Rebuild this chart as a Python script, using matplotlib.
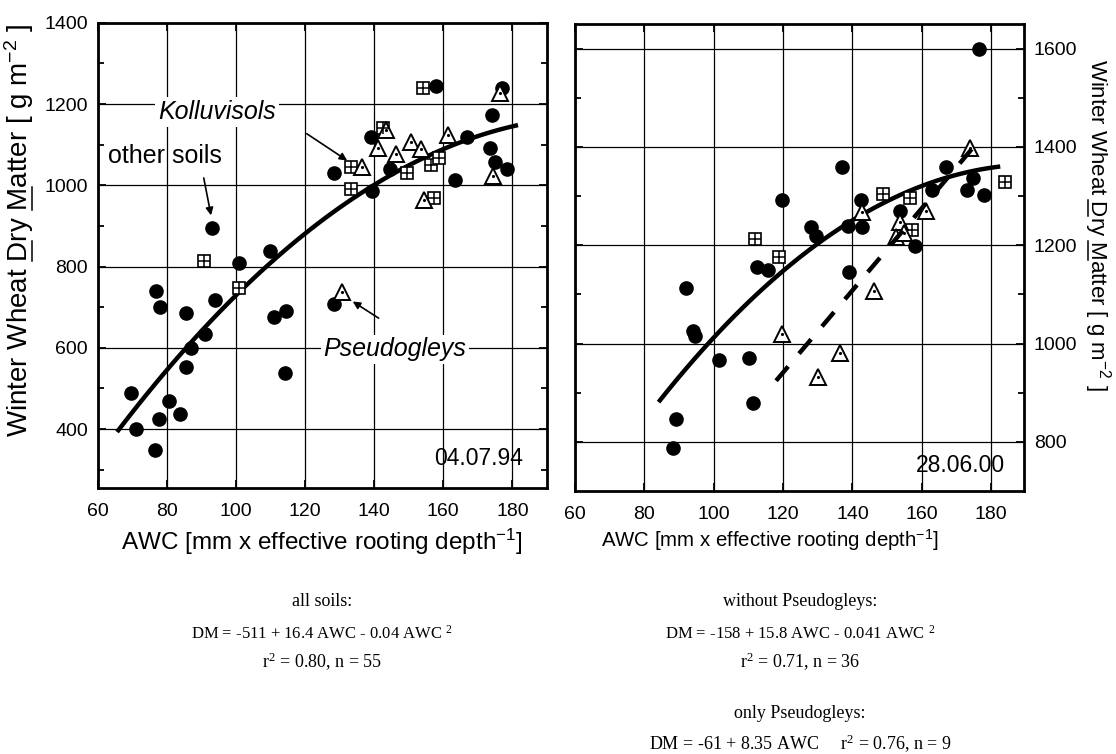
import numpy as np
import matplotlib.pyplot as plt
from matplotlib.lines import Line2D

plt.rcParams['font.family'] = ['Liberation Sans', 'DejaVu Sans']
plt.rcParams['mathtext.default'] = 'regular'

# ---- 04.07.94 (all soils) ----
circ94_x = [158, 177, 174, 167, 139, 144.5, 163.5, 128.5, 139.5, 173.5, 175, 178.5,
            93, 110, 101, 77, 78, 85.7, 94, 111, 114.6, 128.5, 91, 87, 85.7, 114.3,
            69.7, 80.6, 83.8, 77.7, 71, 76.7]
circ94_y = [1245, 1240, 1172, 1119, 1120, 1040, 1012, 1030, 987, 1091, 1058, 1040,
            896, 839, 809, 740, 701, 685, 718, 677, 691, 707, 633, 600, 554, 538,
            488, 469, 438, 426, 399, 349]
sq94_x = [154, 142.5, 133.4, 133.4, 149.6, 156.4, 158.8, 157.4, 90.8, 101]
sq94_y = [1240, 1140, 1046, 992, 1030, 1050, 1066, 969, 813, 746]
tri94_x = [176.3, 161.5, 143.5, 141.1, 146.2, 150.6, 153.5, 136.5, 154.5, 174.4, 130.6]
tri94_y = [1228, 1123, 1137, 1091, 1078, 1107, 1089, 1044, 965, 1023, 738]

# ---- 28.06.00 ----
circ00_x = [176.6, 166.9, 137.1, 174.9, 173.1, 178, 163, 142.6, 138.8, 142.9, 153.7,
            158, 119.7, 128.2, 129.4, 112.6, 115.6, 139, 92, 93.9, 94.5, 101.4, 110.2,
            111.3, 89.2, 88.2]
circ00_y = [1599, 1359, 1359, 1336, 1312, 1303, 1312, 1292, 1239, 1237, 1270,
            1199, 1292, 1238, 1218, 1156, 1149, 1145, 1113, 1025, 1016, 966, 970,
            878, 847, 787]
sq00_x = [184, 156.6, 148.7, 157.1, 111.8, 118.7]
sq00_y = [1329, 1297, 1305, 1231, 1212, 1175]
tri00_x = [174, 142.9, 161.2, 153.7, 152.7, 155, 146.1, 119.7, 136.4, 130.1]
tri00_y = [1397, 1268, 1270, 1248, 1216, 1225, 1106, 1020, 981, 931]

# regression coefficients
fit_all = (-511, 16.4, -0.04)
fit_wo = (-158, 15.8, -0.041)
fit_pg = (-61, 8.35)

TF = 14  # tick labels
ylab = 'Winter Wheat Dry Matter [ g m$^{-2}$ ]'
xlab = 'AWC [mm x effective rooting depth$^{-1}$]'

W, H = 1116, 754
fig = plt.figure(figsize=(W / 100, H / 100), dpi=100)
ax1 = fig.add_axes([0.0875, 0.3528, 0.4026, 0.617])
ax2 = fig.add_axes([0.5152, 0.3488, 0.4024, 0.6194])


def markers(ax, cx, cy, sx, sy, tx, ty):
    ax.plot(cx, cy, 'o', color='k', ms=9.5, zorder=3)
    ax.plot(sx, sy, 's', mfc='white', mec='k', ms=9, mew=1.2, zorder=4)
    ax.plot(sx, sy, '+', color='k', ms=9, mew=1.1, zorder=5)
    ax.plot(tx, ty, '^', mfc='white', mec='k', ms=12, mew=1.4, zorder=4)
    ax.plot(tx, ty, '.', color='k', ms=2.5, zorder=5)


def style(ax, xfs):
    ax.set_xticks(np.arange(60, 181, 20))
    ax.grid(True, which='major', color='k', lw=0.9)
    ax.tick_params(which='both', direction='in', top=True, right=True,
                   labelsize=TF, width=1.3, pad=7)
    ax.tick_params(axis='x', pad=11)
    ax.tick_params(which='major', length=6)
    ax.tick_params(which='minor', length=4)
    for s in ax.spines.values():
        s.set_linewidth(2)
    ax.set_axisbelow(True)
    ax.set_xlabel(xlab, fontsize=xfs)


# left panel
markers(ax1, circ94_x, circ94_y, sq94_x, sq94_y, tri94_x, tri94_y)
xx = np.linspace(66, 181, 100)
ax1.plot(xx, fit_all[0] + fit_all[1] * xx + fit_all[2] * xx ** 2, color='k', lw=3.2, zorder=2)
ax1.set_xlim(60, 190)
ax1.set_ylim(255, 1400)
ax1.set_yticks(np.arange(400, 1401, 200))
ax1.set_yticks(np.arange(300, 1400, 200), minor=True)
style(ax1, 17.5)
ax1.xaxis.set_label_coords(0.5, -(527 - 488) / 466)

AF = 18
ax1.text(94.5, 1180, 'Kolluvisols', style='italic', fontsize=AF, ha='center', va='center',
         bbox=dict(fc='white', ec='none', pad=2), zorder=2)
ax1.text(79.4, 1073, 'other soils', fontsize=AF, ha='center', va='center', zorder=2)
ax1.text(146, 596, 'Pseudogleys', style='italic', fontsize=AF, ha='center', va='center',
         bbox=dict(fc='white', ec='none', pad=2), zorder=2)
ax1.text(170.3, 328, '04.07.94', fontsize=16.5, ha='center', va='center')
arw = dict(arrowstyle='-|>', color='k', lw=1.2, mutation_scale=11, shrinkA=0, shrinkB=0)
ax1.annotate('', xy=(132.2, 1061), xytext=(120.5, 1127), arrowprops=arw)
ax1.annotate('', xy=(92.8, 926), xytext=(90.7, 1018), arrowprops=arw)
ax1.annotate('', xy=(133.8, 714), xytext=(141.3, 673), arrowprops=arw)

# right panel
markers(ax2, circ00_x, circ00_y, sq00_x, sq00_y, tri00_x, tri00_y)
xx = np.linspace(84.5, 182, 100)
ax2.plot(xx, fit_wo[0] + fit_wo[1] * xx + fit_wo[2] * xx ** 2, color='k', lw=3.2, zorder=2)
xp = np.linspace(118, 175, 2)
ax2.plot(xp, fit_pg[0] + fit_pg[1] * xp, color='k', lw=3.2, dashes=(4.2, 3.8), zorder=6)
ax2.set_xlim(60, 189.5)
ax2.set_ylim(700, 1650)
ax2.set_yticks(np.arange(800, 1601, 200))
ax2.set_yticks(np.arange(900, 1600, 200), minor=True)
style(ax2, 14.7)
ax2.xaxis.set_label_coords(0.434, -(527 - 491) / 467)
ax2.tick_params(labelleft=False, labelright=True)
ax2.text(171.3, 751, '28.06.00', fontsize=16.5, ha='center', va='center')

# y labels with underlined D and M
fig.canvas.draw()
rend = fig.canvas.get_renderer()


def tw(s, fs):
    t = fig.text(0, 0, s, fontsize=fs)
    w = t.get_window_extent(rend).width
    t.remove()
    return w


def ylabel(xb, yc, rot, fs):
    # xb: baseline x (px), yc: centre y (px from top)
    fig.text(xb / W, 1 - yc / H, ylab, fontsize=fs, rotation=rot, ha='center',
             va='baseline', rotation_mode='anchor')
    full = tw(ylab, fs)
    off = fs * 0.2
    for pre, ch in (('Winter Wheat D', 'D'), ('Winter Wheat Dry M', 'M')):
        b = tw(pre, fs)
        a = b - tw(ch, fs)
        if rot == 90:
            y0 = (H - yc) - full / 2
            xs = [xb + off, xb + off]
            ys = [y0 + a, y0 + b]
        else:
            y0 = (H - yc) + full / 2
            xs = [xb - off, xb - off]
            ys = [y0 - a, y0 - b]
        fig.add_artist(Line2D([x / W for x in xs], [y / H for y in ys],
                              transform=fig.transFigure, color='k', lw=1.1))


ylabel(28, 230, 90, 20)
ylabel(1091, 225, 270, 16)

# regression equations below the panels
serif = ['Liberation Serif', 'DejaVu Serif']
SF = 13
EF = 12
fig.text(322 / W, 1 - 602 / H, 'all soils:', family=serif, fontsize=SF, ha='center', va='center')
fig.text(322 / W, 1 - 634 / H, 'DM = -511 + 16.4 AWC - 0.04 AWC $^{2}$', family=serif,
         fontsize=EF, ha='center', va='center')
fig.text(322 / W, 1 - 662 / H, 'r$^{2}$ = 0.80, n = 55', family=serif, fontsize=SF,
         ha='center', va='center')
fig.text(800 / W, 1 - 602 / H, 'without Pseudogleys:', family=serif, fontsize=SF,
         ha='center', va='center')
fig.text(800 / W, 1 - 634 / H, 'DM = -158 + 15.8 AWC - 0.041 AWC $^{2}$', family=serif,
         fontsize=EF, ha='center', va='center')
fig.text(800 / W, 1 - 662 / H, 'r$^{2}$ = 0.71, n = 36', family=serif, fontsize=SF,
         ha='center', va='center')
fig.text(800 / W, 1 - 714 / H, 'only Pseudogleys:', family=serif, fontsize=SF,
         ha='center', va='center')
fig.text(800 / W, 1 - 744 / H, 'DM = -61 + 8.35 AWC     r$^{2}$ = 0.76, n = 9', family=serif,
         fontsize=SF, ha='center', va='center')

plt.savefig('out.png', dpi=100)
